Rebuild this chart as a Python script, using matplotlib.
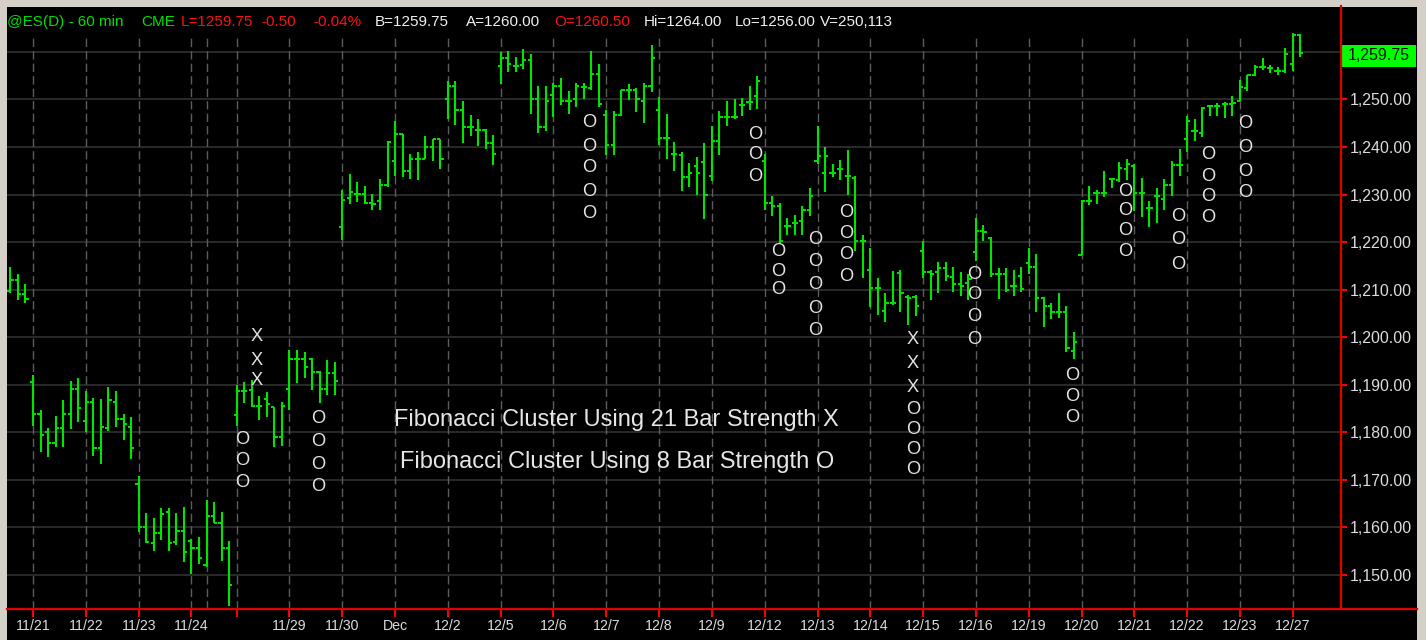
import matplotlib
matplotlib.use('Agg')
import matplotlib.pyplot as plt
import matplotlib.transforms as mtransforms
from matplotlib import font_manager
from matplotlib.patches import Rectangle
from matplotlib.lines import Line2D
import numpy as np

# sessions shown on the chart and how many 60 min bars each one has
day_names = ['11/18', '11/21', '11/22', '11/23', '11/24', '11/25', '11/28', '11/29',
             '11/30', 'Dec', '12/2', '12/5', '12/6', '12/7', '12/8', '12/9', '12/12',
             '12/13', '12/14', '12/15', '12/16', '12/19', '12/20', '12/21', '12/22',
             '12/23', '12/27']
day_bars = [3, 7, 7, 7, 2, 4, 7, 7, 7, 7, 7, 7, 7, 7, 7, 7, 7, 7, 7, 7, 7, 7, 7, 7, 7, 7, 2]
no_tick_days = ['11/18', '11/25']
unlabeled_days = ['11/28']

# hourly OHLC
opens = [1209.8, 1212.0, 1209.0,
         1190.5, 1183.8, 1180.0, 1177.7, 1180.9, 1183.8, 1189.1,
         1182.3, 1186.3, 1176.7, 1180.9, 1186.3, 1182.8, 1181.1,
         1169.2, 1160.0, 1156.8, 1158.9, 1163.3, 1157.0, 1159.3,
         1157.2, 1155.7,
         1152.1, 1162.4, 1161.0, 1155.6,
         1183.7, 1188.7, 1188.9, 1185.6, 1187.0, 1185.4, 1179.0,
         1189.1, 1195.4, 1195.4, 1195.4, 1192.6, 1189.1, 1192.5,
         1223.2, 1229.3, 1230.2, 1230.2, 1228.2, 1228.6, 1232.1,
         1237.0, 1242.8, 1234.9, 1237.4, 1237.5, 1240.0, 1241.6,
         1250.1, 1252.9, 1247.8, 1244.2, 1243.5, 1243.5, 1240.9,
         1257.0, 1258.8, 1257.0, 1257.2, 1258.2, 1250.2, 1244.2,
         1250.9, 1252.8, 1249.6, 1250.2, 1252.6, 1252.5, 1255.3,
         1246.8, 1240.5, 1246.8, 1251.9, 1251.9, 1249.6, 1252.8,
         1247.7, 1241.8, 1238.6, 1238.3, 1233.6, 1236.1, 1236.8,
         1233.9, 1241.2, 1246.4, 1246.4, 1248.9, 1249.4, 1250.7,
         1237.0, 1228.2, 1227.7, 1223.3, 1224.0, 1224.4, 1226.8,
         1237.0, 1234.6, 1234.6, 1235.3, 1233.9, 1233.5, 1220.2,
         1214.1, 1210.4, 1205.6, 1207.2, 1213.5, 1208.5, 1208.5,
         1218.1, 1213.7, 1213.7, 1214.6, 1212.7, 1211.1, 1211.5,
         1217.9, 1222.3, 1220.9, 1213.2, 1213.2, 1210.8, 1212.8,
         1215.7, 1214.8, 1208.2, 1206.5, 1205.4, 1205.4, 1197.2,
         1217.2, 1228.6, 1230.4, 1230.4, 1233.2, 1233.0, 1235.4,
         1236.0, 1230.4, 1227.2, 1229.6, 1229.0, 1232.0, 1236.3,
         1241.6, 1243.3, 1242.9, 1248.6, 1248.6, 1249.0, 1249.0,
         1249.6, 1252.5, 1255.1, 1256.8, 1256.6, 1255.9, 1255.9,
         1257.5, 1263.5]
highs = [1214.8, 1213.4, 1211.3,
         1192.1, 1184.6, 1181.0, 1183.5, 1186.7, 1190.7, 1191.4,
         1188.8, 1187.2, 1187.0, 1189.6, 1188.8, 1183.9, 1183.2,
         1170.8, 1163.0, 1161.9, 1164.0, 1164.0, 1163.0, 1164.4,
         1157.5, 1157.9,
         1165.8, 1165.4, 1163.3, 1157.2,
         1190.0, 1190.6, 1191.0, 1187.7, 1188.4, 1185.4, 1186.3,
         1197.4, 1197.4, 1197.0, 1195.6, 1192.8, 1195.3, 1194.7,
         1230.9, 1234.4, 1232.6, 1231.9, 1230.2, 1233.3, 1241.2,
         1245.4, 1242.8, 1238.6, 1238.9, 1242.4, 1241.7, 1241.7,
         1253.9, 1253.9, 1249.6, 1246.8, 1245.8, 1243.7, 1242.6,
         1260.0, 1260.3, 1258.9, 1260.7, 1259.6, 1252.8, 1252.8,
         1253.5, 1254.6, 1251.7, 1253.5, 1253.5, 1260.3, 1257.5,
         1247.7, 1247.5, 1252.1, 1253.2, 1252.5, 1253.5, 1261.4,
         1250.5, 1247.0, 1241.1, 1239.0, 1236.7, 1237.9, 1240.9,
         1244.4, 1247.5, 1249.6, 1250.0, 1250.4, 1252.8, 1255.0,
         1238.6, 1229.8, 1228.2, 1225.1, 1225.8, 1227.6, 1231.4,
         1244.4, 1240.0, 1236.5, 1237.2, 1239.3, 1234.0, 1221.6,
         1218.8, 1212.4, 1209.3, 1213.9, 1214.1, 1208.9, 1208.9,
         1220.2, 1214.1, 1215.8, 1215.8, 1214.8, 1213.7, 1213.2,
         1225.1, 1223.7, 1221.1, 1214.6, 1214.6, 1214.1, 1214.8,
         1218.8, 1217.6, 1208.5, 1207.3, 1209.2, 1206.6, 1201.2,
         1228.8, 1231.8, 1230.9, 1234.9, 1233.3, 1236.8, 1237.4,
         1236.5, 1233.5, 1228.6, 1231.4, 1233.2, 1237.0, 1239.5,
         1246.6, 1245.8, 1248.4, 1248.9, 1249.2, 1249.4, 1250.8,
         1254.0, 1255.2, 1257.2, 1258.7, 1257.2, 1256.8, 1260.8,
         1264.0, 1263.75]
lows = [1209.3, 1207.9, 1207.2,
        1181.4, 1175.8, 1174.8, 1177.0, 1176.9, 1180.7, 1182.1,
        1180.0, 1175.1, 1173.4, 1180.2, 1181.1, 1178.3, 1174.3,
        1159.1, 1156.7, 1155.1, 1157.4, 1155.1, 1156.3, 1152.7,
        1150.2, 1152.3,
        1151.6, 1160.9, 1153.0, 1143.5,
        1181.4, 1186.1, 1185.4, 1182.6, 1183.3, 1176.9, 1177.2,
        1184.7, 1190.3, 1191.4, 1188.9, 1186.1, 1187.9, 1187.9,
        1220.5, 1228.1, 1228.4, 1228.1, 1226.7, 1226.7, 1231.7,
        1233.9, 1233.7, 1233.2, 1233.0, 1237.4, 1237.0, 1235.4,
        1245.8, 1244.7, 1240.9, 1242.3, 1240.2, 1239.5, 1236.3,
        1253.3, 1255.8, 1255.8, 1256.5, 1247.0, 1243.0, 1243.3,
        1246.3, 1248.8, 1247.0, 1248.4, 1250.2, 1252.1, 1248.4,
        1238.4, 1238.4, 1246.5, 1249.8, 1247.4, 1245.1, 1251.6,
        1240.5, 1237.4, 1234.9, 1230.8, 1231.5, 1230.0, 1224.9,
        1232.8, 1238.4, 1244.5, 1245.9, 1246.5, 1247.8, 1248.0,
        1226.8, 1225.4, 1219.9, 1221.4, 1221.4, 1221.6, 1225.6,
        1236.5, 1230.5, 1233.7, 1233.0, 1230.0, 1218.1, 1212.4,
        1206.3, 1204.7, 1203.3, 1206.8, 1205.4, 1202.6, 1204.4,
        1212.5, 1207.8, 1209.2, 1211.8, 1209.6, 1208.6, 1207.9,
        1216.0, 1220.2, 1212.7, 1208.1, 1209.6, 1208.7, 1209.6,
        1213.2, 1205.4, 1202.1, 1203.8, 1204.0, 1196.8, 1195.4,
        1217.2, 1227.9, 1228.1, 1229.5, 1231.4, 1232.6, 1233.0,
        1226.5, 1225.3, 1223.2, 1224.0, 1226.8, 1229.6, 1234.0,
        1238.9, 1241.2, 1242.1, 1246.6, 1246.6, 1246.1, 1246.5,
        1249.6, 1251.7, 1254.9, 1256.1, 1255.6, 1255.2, 1255.6,
        1255.9, 1259.0]
closes = [1212.0, 1209.0, 1208.0,
          1183.8, 1179.5, 1177.7, 1180.9, 1183.8, 1189.1, 1185.2,
          1186.3, 1176.7, 1181.2, 1186.7, 1182.8, 1181.8, 1176.7,
          1160.0, 1157.0, 1158.9, 1162.8, 1156.8, 1159.3, 1154.9,
          1155.7, 1153.5,
          1162.4, 1161.0, 1155.6, 1147.9,
          1188.7, 1188.7, 1185.6, 1185.6, 1186.0, 1179.0, 1185.6,
          1195.4, 1195.4, 1193.7, 1192.6, 1189.1, 1192.5, 1190.9,
          1228.8, 1230.5, 1230.2, 1228.2, 1228.1, 1232.1, 1241.0,
          1242.8, 1234.9, 1237.4, 1237.5, 1240.0, 1241.6, 1237.5,
          1252.9, 1247.8, 1244.2, 1244.2, 1243.5, 1240.9, 1238.6,
          1258.8, 1257.4, 1257.0, 1258.2, 1250.2, 1244.2, 1249.6,
          1252.8, 1249.6, 1249.6, 1252.8, 1252.6, 1255.3, 1249.1,
          1240.5, 1246.8, 1251.9, 1251.9, 1250.0, 1252.8, 1258.8,
          1241.8, 1241.8, 1238.6, 1233.6, 1234.6, 1234.6, 1230.0,
          1241.2, 1246.4, 1246.4, 1246.4, 1248.9, 1249.4, 1253.9,
          1228.2, 1227.7, 1220.2, 1223.3, 1224.0, 1226.8, 1229.6,
          1238.1, 1238.2, 1234.6, 1235.3, 1233.9, 1220.2, 1220.2,
          1210.4, 1210.4, 1207.2, 1207.2, 1209.3, 1208.2, 1206.6,
          1213.7, 1213.2, 1214.6, 1212.8, 1211.1, 1210.8, 1212.2,
          1222.3, 1222.1, 1213.2, 1213.2, 1209.9, 1210.8, 1210.1,
          1214.8, 1208.2, 1206.5, 1205.4, 1205.4, 1197.7, 1198.9,
          1228.6, 1228.6, 1230.4, 1230.4, 1233.2, 1235.6, 1236.5,
          1230.4, 1230.4, 1227.2, 1229.6, 1232.0, 1236.3, 1236.3,
          1245.4, 1243.3, 1248.2, 1248.6, 1248.6, 1249.0, 1249.3,
          1252.6, 1255.1, 1256.8, 1256.8, 1256.6, 1255.9, 1259.6,
          1263.5, 1259.75]

# Fibonacci cluster marks: bar index and the price levels stacked in that column
o_bars = [31, 41, 77, 99, 102, 107, 111, 120, 128, 141, 148, 155, 159, 164]
o_levels = [[1178.4, 1174.1, 1169.4],
            [1183.0, 1178.1, 1173.2, 1168.6],
            [1245.1, 1240.2, 1235.6, 1230.7, 1226.1],
            [1242.6, 1238.4, 1233.8],
            [1218.1, 1213.9, 1210.0],
            [1220.5, 1216.0, 1211.1, 1206.1, 1201.4],
            [1226.2, 1221.9, 1217.3, 1212.8],
            [1184.8, 1180.5, 1176.3, 1172.1],
            [1213.2, 1208.9, 1204.3, 1199.6],
            [1191.9, 1187.5, 1183.2],
            [1230.7, 1226.7, 1222.5, 1218.1],
            [1225.4, 1220.5, 1215.4],
            [1238.4, 1233.9, 1229.6, 1225.2],
            [1244.9, 1239.8, 1234.9, 1230.4]]
x_bars = [33, 120]
x_levels = [[1200.2, 1195.1, 1190.9],
            [1199.5, 1194.5, 1189.5]]

y_ticks = [1150, 1160, 1170, 1180, 1190, 1200, 1210, 1220, 1230, 1240, 1250, 1260]
last_price = 1259.75

header_parts = [('@ES(D) - 60 min', '#00e000', 7), ('CME', '#00e000', 141),
                ('L=1259.75', '#ff1010', 181), ('-0.50', '#ff1010', 261),
                ('-0.04%', '#ff1010', 313), ('B=1259.75', '#f0f0f0', 375),
                ('A=1260.00', '#f0f0f0', 466), ('O=1260.50', '#ff1010', 554),
                ('Hi=1264.00', '#f0f0f0', 644), ('Lo=1256.00', '#f0f0f0', 735),
                ('V=250,113', '#f0f0f0', 820)]
note_lines = ['Fibonacci Cluster Using 21 Bar Strength X',
              'Fibonacci Cluster Using 8 Bar Strength O']

# fonts: narrow face if present, else regular face a bit smaller
names = {f.name for f in font_manager.fontManager.ttflist}
if 'Liberation Sans Narrow' in names:
    NARROW, k = 'Liberation Sans Narrow', 1.0
else:
    NARROW, k = 'Liberation Sans', 0.82
REGULAR = 'Liberation Sans'

W, H = 1426, 640
fig = plt.figure(figsize=(W / 100, H / 100), dpi=100, facecolor='black')


def fx(px):
    return px / W


def fy(py):
    return 1 - py / H


ax = fig.add_axes([fx(7), fy(609), fx(1341) - fx(7), fy(8) - fy(609)])
ax.set_facecolor('black')
for s in ax.spines.values():
    s.set_visible(False)

x = np.arange(len(opens))
starts = np.cumsum([0] + day_bars[:-1])

# grid
for name, s in zip(day_names, starts):
    if name == '11/18':
        continue
    ax.axvline(s, ymin=0, ymax=0.955, color='#5c5c5c', lw=1.0,
               ls=(0, (6, 3)), zorder=1)
ax.set_yticks(y_ticks)
ax.yaxis.grid(True, color='#282828', lw=1.5, zorder=0)
ax.set_axisbelow(True)

# OHLC bars
green = '#00e400'
ax.vlines(x, lows, highs, color=green, lw=1.5, zorder=3)
ax.hlines(opens, x - 0.42, x, color=green, lw=1.4, zorder=3)
ax.hlines(closes, x, x + 0.42, color=green, lw=1.4, zorder=3)

# cluster marks
for b, lv in zip(o_bars, o_levels):
    for p in lv:
        ax.text(b - 0.25, p, 'O', ha='center', va='center', color='#e4e4e4',
                fontsize=16 * k, family=NARROW, zorder=4)
for b, lv in zip(x_bars, x_levels):
    for p in lv:
        ax.text(b - 0.4, p, 'X', ha='center', va='center', color='#e4e4e4',
                fontsize=16 * k, family=NARROW, zorder=4)

ax.set_xlim(-0.45, 176.4)
ax.set_ylim(1142.85, 1269.24)

# axes ticks
ax.yaxis.tick_right()
ax.set_yticklabels(['{:,.2f}'.format(v) if v < 1260 else '' for v in y_ticks])
ax.tick_params(axis='y', colors='red', length=4.5, width=1.5, pad=1.5,
               labelcolor='#dcdcdc', labelsize=11.5)
for t in ax.get_yticklabels():
    t.set_family(REGULAR)

tick_pos = [s for n, s in zip(day_names, starts) if n not in no_tick_days]
tick_lab = ['' if n in unlabeled_days else n
            for n in day_names if n not in no_tick_days]
ax.set_xticks(tick_pos)
ax.set_xticklabels(tick_lab)
ax.tick_params(axis='x', colors='red', length=5.5, width=1.5, pad=2,
               labelcolor='#dcdcdc', labelsize=12.4 * k)
for t in ax.get_xticklabels():
    t.set_family(NARROW)

# last price tag
trans = mtransforms.blended_transform_factory(ax.transAxes, ax.transData)
tag_mid = last_price - 0.6
ax.add_patch(Rectangle((1.001, tag_mid - 2.4), 0.0553, 4.8, transform=trans,
                       facecolor='#00ff00', edgecolor='none', clip_on=False, zorder=6))
ax.text(1.028, tag_mid, '{:,.2f}'.format(last_price), transform=trans,
        ha='center', va='center', color='#101010', fontsize=11.5,
        family=REGULAR, clip_on=False, zorder=7)

# red frame lines and grey window border
fig.add_artist(Line2D([fx(7), fx(1417)], [fy(609), fy(609)], color='#e00000', lw=1.6))
fig.add_artist(Line2D([fx(1341), fx(1341)], [fy(6), fy(609)], color='#e00000', lw=1.6))
fig.add_artist(Rectangle((0, fy(7)), 1, 7 / H, facecolor='#d4d0c8', edgecolor='none'))
fig.add_artist(Rectangle((0, 0), 7 / W, 1, facecolor='#d4d0c8', edgecolor='none'))
fig.add_artist(Rectangle((fx(1417), 0), 9 / W, 1, facecolor='#d4d0c8', edgecolor='none'))

# header line
for txt, col, px in header_parts:
    fig.text(fx(px), fy(22), txt, color=col, fontsize=13.4 * k, family=NARROW,
             ha='left', va='center')

# notes in the middle
fig.text(fx(616.5), fy(420), note_lines[0], color='#e6e6e6', fontsize=20.8 * k,
         family=NARROW, ha='center', va='center')
fig.text(fx(617.5), fy(462), note_lines[1], color='#e6e6e6', fontsize=20.8 * k,
         family=NARROW, ha='center', va='center')

fig.savefig('out.png', dpi=100, facecolor='black')
